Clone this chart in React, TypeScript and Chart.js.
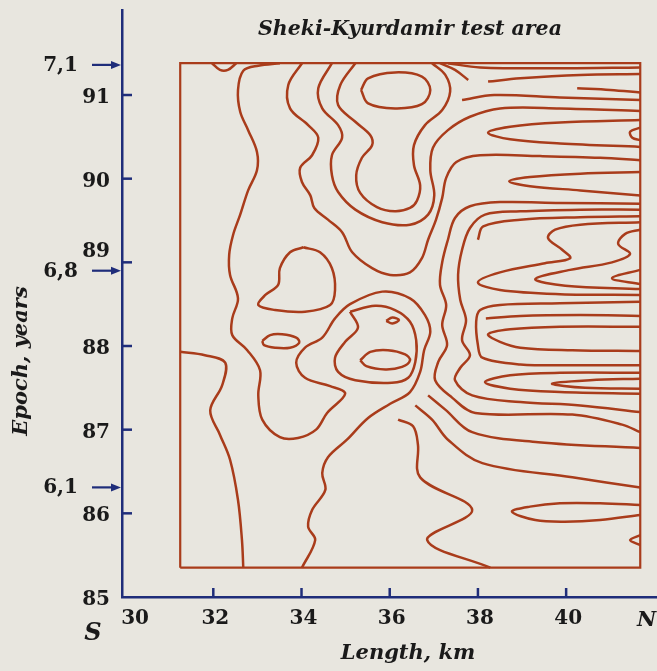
import React, { useEffect, useRef } from 'react';
import { Chart, registerables } from 'chart.js';
Chart.register(...registerables);

const TITLE = 'Sheki-Kyurdamir test area';
const X_TITLE = 'Length, km';
const Y_TITLE = 'Epoch, years';
const X_START = 'S';
const X_END = 'N';
const xTicks = [30, 32, 34, 36, 38, 40];
const yTicks = [85, 86, 87, 88, 89, 90, 91];
const quakeLabels = ['7,1', '6,8', '6,1'];
const quakeEpochs = [91.36, 88.9, 86.31];
const frameX = [31.25, 41.68, 41.68, 31.25, 31.25];
const frameY = [85.35, 85.35, 91.38, 91.38, 85.35];

type P = [number, number];

const bumpTop: P[] = [[31.97, 91.38], [32.15, 91.3], [32.33, 91.3], [32.52, 91.38]];
const lineC1: P[] = [[31.25, 87.93], [31.81, 87.89], [32.27, 87.8], [32.2, 87.53], [31.93, 87.23], [32.15, 86.94], [32.38, 86.64], [32.56, 86.16], [32.65, 85.68], [32.68, 85.35]];
const lineC2: P[] = [[33.51, 91.38], [33.02, 91.35], [32.68, 91.29], [32.56, 91.06], [32.61, 90.8], [32.79, 90.58], [32.99, 90.32], [32.99, 90.1], [32.79, 89.86], [32.61, 89.57], [32.45, 89.33], [32.36, 89.09], [32.38, 88.85], [32.56, 88.57], [32.43, 88.33], [32.43, 88.13], [32.77, 87.95], [33.06, 87.71], [33.02, 87.41], [33.11, 87.12], [33.51, 86.91], [33.92, 86.9], [34.33, 87.0], [34.58, 87.2], [34.99, 87.43], [34.65, 87.52], [34.08, 87.62], [33.88, 87.8], [34.08, 87.98], [34.47, 88.1], [34.76, 88.33], [35.1, 88.5], [35.83, 88.65], [36.46, 88.57], [36.8, 88.37], [36.92, 88.17], [36.78, 87.95], [36.69, 87.69], [36.46, 87.45], [36.01, 87.31], [35.51, 87.14], [35.03, 86.88], [34.6, 86.67], [34.47, 86.48], [34.54, 86.28], [34.24, 86.04], [34.15, 85.84], [34.31, 85.68], [34.01, 85.35]];
const lineC3: P[] = [[34.01, 91.38], [33.7, 91.12], [33.74, 90.84], [34.15, 90.64], [34.38, 90.49], [34.24, 90.28], [33.97, 90.13], [34.01, 89.96], [34.2, 89.8], [34.29, 89.65], [34.6, 89.51], [34.92, 89.36], [35.15, 89.12], [35.6, 88.93], [36.01, 88.85], [36.46, 88.88], [36.73, 89.05], [36.87, 89.27], [37.05, 89.51], [37.19, 89.77], [37.28, 90.01], [37.51, 90.2], [38.05, 90.28], [39.41, 90.27], [40.77, 90.25], [41.68, 90.22]];
const lineC4: P[] = [[34.69, 91.38], [34.38, 91.08], [34.47, 90.84], [34.83, 90.64], [34.92, 90.49], [34.69, 90.28], [34.69, 90.04], [34.83, 89.84], [35.22, 89.63], [35.83, 89.48], [36.46, 89.45], [36.87, 89.57], [37.01, 89.8], [36.92, 90.1], [36.98, 90.37], [37.32, 90.58], [37.82, 90.74], [38.5, 90.84], [39.86, 90.84], [41.68, 90.81]];
const bottle: P[] = [[35.22, 91.38], [34.88, 91.12], [34.83, 90.88], [35.22, 90.68], [35.56, 90.52], [35.6, 90.4], [35.37, 90.25], [35.24, 90.04], [35.33, 89.83], [35.71, 89.66], [36.12, 89.61], [36.46, 89.65], [36.62, 89.74], [36.69, 89.92], [36.55, 90.16], [36.55, 90.4], [36.8, 90.64], [37.19, 90.82], [37.37, 91.04], [37.26, 91.24], [36.96, 91.38]];
const ovalTop: P[] = [[35.35, 91.06], [35.51, 91.2], [36.12, 91.27], [36.73, 91.22], [36.92, 91.06], [36.73, 90.89], [36.12, 90.84], [35.51, 90.9], [35.35, 91.06]];
const heart: P[] = [[34.04, 89.18], [34.42, 89.12], [34.69, 88.93], [34.76, 88.67], [34.65, 88.49], [34.08, 88.41], [33.4, 88.43], [33.02, 88.49], [33.18, 88.61], [33.47, 88.73], [33.51, 88.93], [33.74, 89.12], [34.04, 89.18]];
const ovalLeft: P[] = [[33.11, 88.06], [33.29, 88.13], [33.56, 88.14], [33.88, 88.1], [33.95, 88.04], [33.74, 87.98], [33.4, 87.98], [33.15, 88.01], [33.11, 88.06]];
const ovalMid: P[] = [[35.33, 87.83], [35.56, 87.93], [35.96, 87.95], [36.35, 87.9], [36.46, 87.83], [36.28, 87.75], [35.9, 87.72], [35.47, 87.76], [35.33, 87.83]];
const blob: P[] = [[35.92, 88.3], [36.06, 88.34], [36.21, 88.31], [36.06, 88.27], [35.92, 88.3]];
const loopMid: P[] = [[35.1, 88.41], [35.28, 88.22], [34.99, 88.05], [34.76, 87.86], [34.83, 87.69], [35.22, 87.59], [36.05, 87.56], [36.42, 87.62], [36.58, 87.81], [36.6, 88.07], [36.46, 88.29], [36.12, 88.43], [35.67, 88.48], [35.1, 88.41]];
const zigzag: P[] = [[36.19, 87.12], [36.53, 87.04], [36.64, 86.82], [36.69, 86.43], [37.87, 86.04], [36.85, 85.68], [38.28, 85.35]];
const lineBelow: P[] = [[36.58, 87.29], [36.96, 87.12], [37.32, 86.88], [38.1, 86.6], [40.14, 86.43], [41.68, 86.31]];
const lineB: P[] = [[36.87, 87.41], [37.26, 87.24], [37.87, 86.97], [39.37, 86.85], [41.68, 86.78]];
const lineM2: P[] = [[41.68, 89.7], [39.86, 89.71], [38.5, 89.72], [37.82, 89.67], [37.48, 89.53], [37.32, 89.27], [37.19, 89.0], [37.14, 88.73], [37.28, 88.49], [37.19, 88.25], [37.3, 88.01], [37.1, 87.81], [37.03, 87.59], [37.42, 87.38], [37.94, 87.2], [40.14, 87.18], [41.27, 87.06], [41.68, 86.97]];
const lineM3: P[] = [[41.68, 89.63], [40.32, 89.63], [38.96, 89.61], [38.16, 89.57], [37.82, 89.41], [37.64, 89.15], [37.55, 88.85], [37.6, 88.55], [37.73, 88.31], [37.64, 88.07], [37.82, 87.89], [37.6, 87.74], [37.48, 87.59], [37.87, 87.41], [38.96, 87.33], [40.32, 87.29], [41.68, 87.21]];
const lineM4: P[] = [[38.0, 89.27], [38.12, 89.43], [38.96, 89.51], [40.32, 89.54], [41.68, 89.55]];
const zig1: P[] = [[41.68, 89.48], [40.32, 89.45], [39.75, 89.39], [39.59, 89.29], [39.91, 89.15], [40.09, 89.05], [39.52, 88.99], [38.5, 88.88], [38.0, 88.76], [38.5, 88.67], [39.86, 88.62], [41.68, 88.61]];
const zig2: P[] = [[41.68, 89.39], [41.34, 89.34], [41.18, 89.22], [41.45, 89.1], [41.04, 89.0], [40.09, 88.91], [39.3, 88.8], [39.98, 88.72], [41.68, 88.68]];
const zig3: P[] = [[41.68, 88.91], [41.04, 88.81], [41.68, 88.74]];
const loopV4: P[] = [[41.68, 88.53], [39.86, 88.51], [38.5, 88.49], [38.05, 88.43], [37.96, 88.29], [38.0, 88.01], [38.1, 87.86], [38.96, 87.78], [40.32, 87.77], [41.68, 87.77]];
const lineM5: P[] = [[38.18, 88.33], [38.96, 88.36], [40.32, 88.37], [41.68, 88.36]];
const tongueU4: P[] = [[41.68, 88.23], [39.86, 88.23], [38.73, 88.2], [38.23, 88.14], [38.5, 88.05], [38.96, 87.98], [40.14, 87.95], [41.68, 87.94]];
const tongueU5: P[] = [[41.68, 87.68], [39.86, 87.68], [38.73, 87.65], [38.16, 87.57], [38.73, 87.49], [39.86, 87.45], [41.68, 87.43]];
const tongueU6: P[] = [[41.68, 87.61], [40.54, 87.59], [39.68, 87.55], [40.43, 87.5], [41.68, 87.49]];
const topT1: P[] = [[37.32, 91.38], [38.05, 91.33], [39.86, 91.32], [41.68, 91.33]];
const topT2: P[] = [[38.23, 91.16], [38.96, 91.2], [40.32, 91.24], [41.68, 91.25]];
const topT3: P[] = [[40.25, 91.08], [41.0, 91.06], [41.68, 91.03]];
const topT4: P[] = [[37.64, 90.94], [38.37, 91.0], [39.86, 90.97], [41.68, 90.94]];
const topS1: P[] = [[37.14, 91.38], [37.48, 91.3], [37.78, 91.18]];
const tongueU1: P[] = [[41.68, 90.7], [39.86, 90.67], [38.73, 90.62], [38.23, 90.55], [38.73, 90.47], [39.86, 90.42], [41.68, 90.38]];
const loopEdge: P[] = [[41.68, 90.61], [41.45, 90.56], [41.5, 90.49], [41.68, 90.46]];
const tongueU3: P[] = [[41.68, 90.08], [40.32, 90.06], [39.18, 90.02], [38.71, 89.97], [39.18, 89.91], [40.32, 89.86], [41.68, 89.8]];
const tongueBottom: P[] = [[41.68, 86.1], [40.77, 86.12], [39.86, 86.12], [39.18, 86.08], [38.77, 86.02], [39.3, 85.92], [39.97, 85.9], [40.77, 85.92], [41.68, 85.98]];
const notchBottom: P[] = [[41.68, 85.74], [41.45, 85.68], [41.68, 85.62]];

const contours: P[][] = [
  bumpTop, lineC1, lineC2, lineC3, lineC4, bottle, ovalTop, heart, ovalLeft, ovalMid, blob, loopMid,
  zigzag, lineBelow, lineB, lineM2, lineM3, lineM4, zig1, zig2, zig3, loopV4, lineM5, tongueU4,
  tongueU5, tongueU6, topT1, topT2, topT3, topT4, topS1, tongueU1, loopEdge, tongueU3, tongueBottom, notchBottom,
];

const BG = '#e8e6df';
const AXIS = '#1f2d7a';
const LINE = '#a93c1b';
const TEXT = '#1a1a1a';
const SERIF = '"DejaVu Serif", serif';

const decor = {
  id: 'decor',
  beforeDraw(chart: any) {
    const ctx = chart.ctx;
    ctx.save();
    ctx.fillStyle = BG;
    ctx.fillRect(0, 0, chart.width, chart.height);
    ctx.restore();
  },
  afterDraw(chart: any) {
    const ctx: CanvasRenderingContext2D = chart.ctx;
    const { x, y } = chart.scales;
    const area = chart.chartArea;
    ctx.save();
    ctx.strokeStyle = AXIS;
    ctx.lineWidth = 2.5;
    xTicks.forEach((v) => {
      if (v === xTicks[0]) return;
      const px = x.getPixelForValue(v);
      ctx.beginPath();
      ctx.moveTo(px, area.bottom);
      ctx.lineTo(px, area.bottom - 9);
      ctx.stroke();
    });
    yTicks.forEach((v) => {
      if (v === yTicks[0]) return;
      const py = y.getPixelForValue(v);
      ctx.beginPath();
      ctx.moveTo(area.left, py);
      ctx.lineTo(area.left + 10, py);
      ctx.stroke();
    });
    ctx.fillStyle = TEXT;
    ctx.font = `bold 20px ${SERIF}`;
    ctx.textBaseline = 'alphabetic';
    ctx.textAlign = 'center';
    xTicks.forEach((v, i) => {
      const px = x.getPixelForValue(v) + (i === 0 ? 10 : 2);
      ctx.fillText(String(v), px, area.bottom + 27);
    });
    ctx.textAlign = 'right';
    yTicks.forEach((v) => {
      const py = y.getPixelForValue(v);
      const dy = v === 89 ? -5 : 8;
      ctx.fillText(String(v), area.left - 12, py + dy);
    });
    quakeEpochs.forEach((e, i) => {
      const py = y.getPixelForValue(e);
      ctx.strokeStyle = AXIS;
      ctx.fillStyle = AXIS;
      ctx.lineWidth = 2.2;
      ctx.beginPath();
      ctx.moveTo(area.left - 30, py);
      ctx.lineTo(area.left - 8, py);
      ctx.stroke();
      ctx.beginPath();
      ctx.moveTo(area.left - 1, py);
      ctx.lineTo(area.left - 11, py - 4);
      ctx.lineTo(area.left - 11, py + 4);
      ctx.closePath();
      ctx.fill();
      ctx.fillStyle = TEXT;
      ctx.font = `bold 20px ${SERIF}`;
      ctx.textAlign = 'right';
      ctx.fillText(quakeLabels[i], area.left - 44, py + 6);
    });
    ctx.fillStyle = TEXT;
    ctx.textAlign = 'center';
    ctx.font = `italic bold 20.5px ${SERIF}`;
    ctx.fillText(TITLE, 410, 35);
    ctx.font = `italic bold 21px ${SERIF}`;
    ctx.fillText(X_TITLE, 408, 659);
    ctx.save();
    ctx.translate(27, 361);
    ctx.rotate(-Math.PI / 2);
    ctx.fillText(Y_TITLE, 0, 0);
    ctx.restore();
    ctx.font = `italic bold 24px ${SERIF}`;
    ctx.fillText(X_START, 93, 640);
    ctx.font = `italic bold 21px ${SERIF}`;
    ctx.textAlign = 'left';
    ctx.fillText(X_END, 637, 626);
    ctx.restore();
  },
};

export default function App() {
  const ref = useRef<HTMLCanvasElement>(null);
  useEffect(() => {
    document.body.style.margin = '0';
    document.body.style.background = BG;
    const canvas = ref.current!;
    const frame = {
      data: frameX.map((fx, i) => ({ x: fx, y: frameY[i] })),
      tension: 0,
      borderWidth: 2.2,
    };
    const lines = contours.map((c) => ({
      data: c.map(([cx, cy]) => ({ x: cx, y: cy })),
      tension: 0.35,
      borderWidth: 2.5,
    }));
    const datasets = [frame, ...lines].map((d) => ({
      ...d,
      showLine: true,
      pointRadius: 0,
      borderColor: LINE,
      fill: false,
      clip: false as any,
    }));
    const chart = new Chart(canvas, {
      type: 'scatter',
      data: { datasets },
      options: {
        animation: false,
        responsive: false,
        devicePixelRatio: 1,
        events: [],
        layout: { padding: { top: 10, left: 0, right: 0, bottom: 0 } },
        plugins: { legend: { display: false }, tooltip: { enabled: false } },
        scales: {
          x: {
            type: 'linear',
            min: 29.93,
            max: 42.06,
            ticks: { display: false },
            grid: { display: true, drawOnChartArea: false, drawTicks: false },
            border: { display: true, color: AXIS, width: 2.5 },
            afterFit: (s: any) => { s.height = 74; },
          },
          y: {
            type: 'linear',
            min: 85,
            max: 92.016,
            ticks: { display: false },
            grid: { display: true, drawOnChartArea: false, drawTicks: false },
            border: { display: true, color: AXIS, width: 2.5 },
            afterFit: (s: any) => { s.width = 122; },
          },
        },
      } as any,
      plugins: [decor],
    });
    return () => chart.destroy();
  }, []);
  return <canvas ref={ref} width={657} height={671} style={{ display: 'block' }} />;
}
